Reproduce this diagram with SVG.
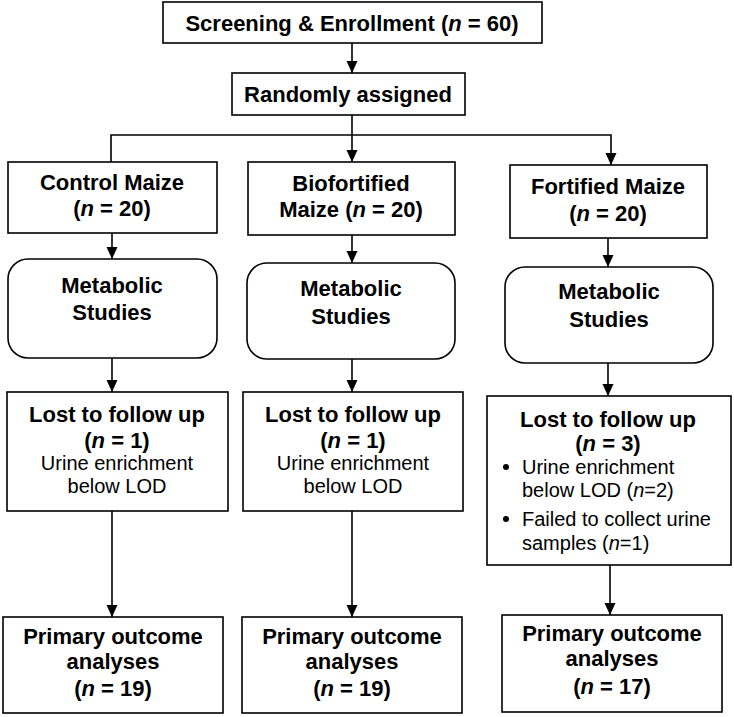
<svg xmlns="http://www.w3.org/2000/svg" width="734" height="717" viewBox="0 0 734 717">
<style>
.box{fill:#fff;stroke:#000;stroke-width:1.6}
.b{font-family:"Liberation Sans",Arial,sans-serif;font-weight:bold;font-size:22px;text-anchor:middle;fill:#000}
.r{font-family:"Liberation Sans",Arial,sans-serif;font-size:20px;text-anchor:middle;fill:#000}
.l{font-family:"Liberation Sans",Arial,sans-serif;font-size:20px;fill:#000}
.i{font-style:italic}
.c{fill:none;stroke:#000;stroke-width:1.6}
</style>
<defs>
<marker id="ah" markerUnits="userSpaceOnUse" markerWidth="12" markerHeight="12" refX="12" refY="5.5" orient="auto">
<path d="M0,0 L12,5.5 L0,11 z" fill="#000"/>
</marker>
</defs>
<rect width="734" height="717" fill="#fff"/>
<g id="connectors">
<line class="c" x1="352" y1="43" x2="352" y2="73" marker-end="url(#ah)"/>
<line class="c" x1="352" y1="115" x2="352" y2="162" marker-end="url(#ah)"/>
<polyline class="c" points="111,162 111,135 611,135 611,165" marker-end="url(#ah)"/>
<line class="c" x1="112" y1="233" x2="112" y2="259" marker-end="url(#ah)"/>
<line class="c" x1="352" y1="235" x2="352" y2="263" marker-end="url(#ah)"/>
<line class="c" x1="608" y1="238" x2="608" y2="267" marker-end="url(#ah)"/>
<line class="c" x1="112" y1="358" x2="112" y2="392" marker-end="url(#ah)"/>
<line class="c" x1="352" y1="359" x2="352" y2="392" marker-end="url(#ah)"/>
<line class="c" x1="608" y1="363" x2="608" y2="396" marker-end="url(#ah)"/>
<line class="c" x1="112" y1="511" x2="112" y2="617" marker-end="url(#ah)"/>
<line class="c" x1="352" y1="511" x2="352" y2="617" marker-end="url(#ah)"/>
<line class="c" x1="610" y1="565" x2="610" y2="615" marker-end="url(#ah)"/>
</g>
<g id="screening">
<rect class="box" x="163" y="2" width="379" height="41"/>
<text class="b" x="352" y="31">Screening &amp; Enrollment (<tspan class="i">n</tspan> = 60)</text>
</g>
<g id="randomly">
<rect class="box" x="232" y="73" width="233" height="42"/>
<text class="b" x="348" y="102">Randomly assigned</text>
</g>
<g id="control">
<rect class="box" x="8" y="162" width="209" height="71"/>
<text class="b" x="112" y="190">Control Maize</text>
<text class="b" x="112" y="216">(<tspan class="i">n</tspan> = 20)</text>
</g>
<g id="biofortified">
<rect class="box" x="248" y="162" width="207" height="73"/>
<text class="b" x="351" y="191">Biofortified</text>
<text class="b" x="351" y="217">Maize (<tspan class="i">n</tspan> = 20)</text>
</g>
<g id="fortified">
<rect class="box" x="510" y="165" width="197" height="73"/>
<text class="b" x="608" y="194">Fortified Maize</text>
<text class="b" x="608" y="221">(<tspan class="i">n</tspan> = 20)</text>
</g>
<g id="metabolic1">
<rect class="box" x="8" y="259" width="209" height="99" rx="20"/>
<text class="b" x="112" y="293">Metabolic</text>
<text class="b" x="112" y="320">Studies</text>
</g>
<g id="metabolic2">
<rect class="box" x="247" y="263" width="208" height="96" rx="20"/>
<text class="b" x="351" y="296">Metabolic</text>
<text class="b" x="351" y="324">Studies</text>
</g>
<g id="metabolic3">
<rect class="box" x="505" y="267" width="208" height="96" rx="20"/>
<text class="b" x="609" y="299">Metabolic</text>
<text class="b" x="609" y="327">Studies</text>
</g>
<g id="lost1">
<rect class="box" x="7" y="392" width="221" height="119"/>
<text class="b" x="117" y="422">Lost to follow up</text>
<text class="b" x="117" y="448">(<tspan class="i">n</tspan> = 1)</text>
<text class="r" x="117" y="470">Urine enrichment</text>
<text class="r" x="117" y="493">below LOD</text>
</g>
<g id="lost2">
<rect class="box" x="243" y="392" width="220" height="119"/>
<text class="b" x="353" y="422">Lost to follow up</text>
<text class="b" x="353" y="448">(<tspan class="i">n</tspan> = 1)</text>
<text class="r" x="353" y="470">Urine enrichment</text>
<text class="r" x="353" y="493">below LOD</text>
</g>
<g id="lost3">
<rect class="box" x="487" y="396" width="244" height="169"/>
<text class="b" x="608" y="427">Lost to follow up</text>
<text class="b" x="608" y="451">(<tspan class="i">n</tspan> = 3)</text>
<circle cx="506" cy="467" r="3"/>
<text class="l" x="522" y="474">Urine enrichment</text>
<text class="l" x="522" y="497">below LOD (<tspan class="i">n</tspan>=2)</text>
<circle cx="506" cy="519" r="3"/>
<text class="l" x="522" y="526">Failed to collect urine</text>
<text class="l" x="522" y="550">samples (<tspan class="i">n</tspan>=1)</text>
</g>
<g id="primary1">
<rect class="box" x="3" y="617" width="220" height="96"/>
<text class="b" x="113" y="644">Primary outcome</text>
<text class="b" x="113" y="669">analyses</text>
<text class="b" x="113" y="696">(<tspan class="i">n</tspan> = 19)</text>
</g>
<g id="primary2">
<rect class="box" x="242" y="617" width="220" height="96"/>
<text class="b" x="352" y="644">Primary outcome</text>
<text class="b" x="352" y="669">analyses</text>
<text class="b" x="352" y="696">(<tspan class="i">n</tspan> = 19)</text>
</g>
<g id="primary3">
<rect class="box" x="502" y="615" width="220" height="97"/>
<text class="b" x="612" y="641">Primary outcome</text>
<text class="b" x="612" y="666">analyses</text>
<text class="b" x="612" y="694">(<tspan class="i">n</tspan> = 17)</text>
</g>
</svg>
